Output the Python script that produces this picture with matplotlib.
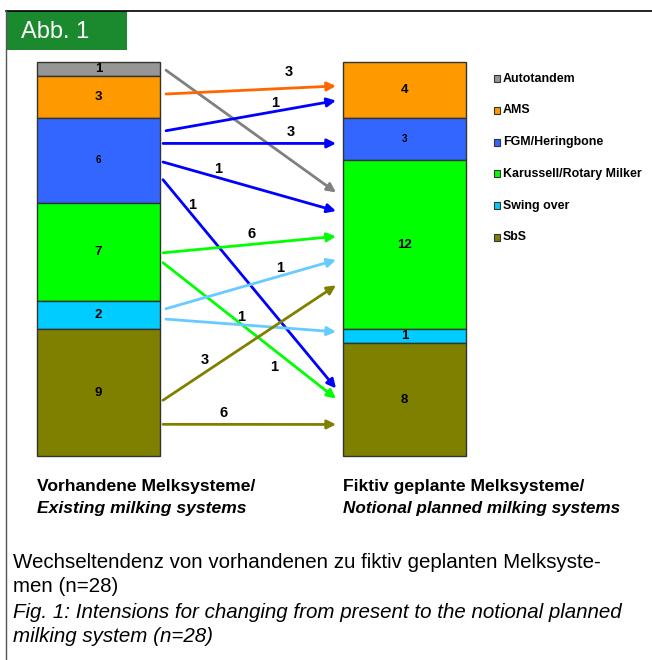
import numpy as np
import matplotlib
matplotlib.use("Agg")
import matplotlib.pyplot as plt
from matplotlib.patches import Rectangle
from matplotlib.lines import Line2D

# Melksysteme, Reihenfolge von oben nach unten im Stapel
systems = ['Autotandem', 'AMS', 'FGM/Heringbone', 'Karussell/Rotary Milker', 'Swing over', 'SbS']
sys_colors = ['#969696', '#FF9900', '#3366FF', '#00FF00', '#00CCFF', '#808000']
arrow_colors = ['#808080', '#FF6600', '#0000FF', '#00FF00', '#66CCFF', '#808000']

existing = [1, 3, 6, 7, 2, 9]   # vorhanden
planned = [0, 4, 3, 12, 1, 8]   # fiktiv geplant

# Wechsel: von -> nach, Anzahl Betriebe
flow_from = [0, 1, 2, 2, 2, 2, 3, 3, 4, 4, 5, 5]
flow_to = [3, 1, 1, 2, 3, 5, 3, 5, 3, 4, 3, 5]
flow_n = [1, 3, 1, 3, 1, 1, 6, 1, 1, 1, 3, 6]
flow_labelled = [False] + [True] * 11

# Lage der Pfeile innerhalb der Segmente (Anteil von oben)
start_frac = [0.60, 0.43, 0.15, 0.30, 0.52, 0.73, 0.51, 0.61, 0.27, 0.64, 0.56, 0.75]
end_frac = [0.19, 0.43, 0.69, 0.60, 0.30, 0.40, 0.45, 0.49, 0.59, 0.18, 0.74, 0.72]
start_pad = [6, 6, 6, 3, 3, 3, 3, 3, 6, 6, 3, 3]
# Beschriftung: Position entlang des Pfeils und Abstand darueber (px)
label_t = [0, 0.72, 0.64, 0.74, 0.32, 0.17, 0.51, 0.64, 0.67, 0.44, 0.24, 0.35]
label_dy = [0, 16, 8, 11, 9, 10, 10, -17, 8, 8, 13, 11]

W, H = 652, 660
fig = plt.figure(figsize=(W / 100, H / 100), dpi=100)


def fx(x):
    return x / W


def fy(y):
    return 1 - y / H


# Achse ueber die ganze Flaeche, Skala so gelegt, dass die Saeulen passen
ax = fig.add_axes([0, 0, 1, 1])
x_left, x_right = 98.5, 404.5
px_per_x = x_right - x_left
y_base, px_per_unit = 456.0, 14.08
ax.set_xlim((0 - x_left) / px_per_x, (W - x_left) / px_per_x)
ax.set_ylim((y_base - H) / px_per_unit, y_base / px_per_unit)
ax.axis('off')

total = sum(existing)
bar_w = 123 / px_per_x


def stack(vals):
    tops = total - np.concatenate([[0], np.cumsum(vals)[:-1]])
    return tops - np.array(vals), tops


ex_bot, ex_top = stack(existing)
pl_bot, pl_top = stack(planned)

for i in range(len(systems)):
    for xpos, vals, bots in ((0, existing, ex_bot), (1, planned, pl_bot)):
        if vals[i] == 0:
            continue
        ax.bar(xpos, vals[i], bottom=bots[i], width=bar_w, color=sys_colors[i],
               edgecolor='#333333', linewidth=1.0, zorder=2)
        fs = 7 if i == 2 else 9.5
        ax.text(xpos, bots[i] + vals[i] / 2, str(vals[i]), ha='center', va='center',
                fontsize=fs, fontweight='bold', family='Liberation Sans', zorder=3)

# Pfeile
for k in range(len(flow_n)):
    s, d = flow_from[k], flow_to[k]
    y0 = ex_top[s] - start_frac[k] * existing[s]
    y1 = pl_top[d] - end_frac[k] * planned[d]
    x0 = bar_w / 2 + start_pad[k] / px_per_x
    x1 = 1 - bar_w / 2 - 7 / px_per_x
    ax.annotate('', xy=(x1, y1), xytext=(x0, y0),
                arrowprops=dict(arrowstyle='-|>', color=arrow_colors[s], lw=2.0,
                                mutation_scale=13, shrinkA=0, shrinkB=0), zorder=4)
    if flow_labelled[k]:
        t = label_t[k]
        lx = x0 + t * (x1 - x0)
        ly = y0 + t * (y1 - y0) + label_dy[k] / px_per_unit
        ax.text(lx, ly, str(flow_n[k]), ha='center', va='center', fontsize=10.5,
                fontweight='bold', family='Liberation Sans', zorder=5)

# Legende
leg_y = [78.5, 110.3, 142.1, 173.9, 205.7, 237.5]
for i, name in enumerate(systems):
    fig.patches.append(Rectangle((fx(493.5), fy(leg_y[i] + 3.5)), 6.5 / W, 7 / H,
                                 transform=fig.transFigure, facecolor=sys_colors[i],
                                 edgecolor='#333333', linewidth=0.8))
    fig.text(fx(503), fy(leg_y[i]), name, ha='left', va='center', fontsize=8.9,
             fontweight='bold', family='Liberation Sans')

# Rahmen und Kopf
fig.add_artist(Line2D([fx(6), fx(652)], [fy(11), fy(11)], color='black', lw=1.2,
                      transform=fig.transFigure))
fig.add_artist(Line2D([fx(6), fx(6)], [fy(11), fy(660)], color='#555555', lw=1.0,
                      transform=fig.transFigure))
fig.patches.append(Rectangle((fx(6), fy(50)), 121 / W, 39 / H, transform=fig.transFigure,
                             facecolor='#1B8A2F', edgecolor='none'))
cond = ['Liberation Sans Narrow', 'Liberation Sans']
fig.text(fx(21), fy(32), 'Abb. 1', color='white', fontsize=17, va='center', ha='left',
         family=cond)

fig.text(fx(37), fy(486), 'Vorhandene Melksysteme/', fontsize=12.6, fontweight='bold',
         va='center', family=cond)
fig.text(fx(37), fy(509), 'Existing milking systems', fontsize=12.6, fontweight='bold',
         style='italic', va='center', family=cond)
fig.text(fx(343), fy(486), 'Fiktiv geplante Melksysteme/', fontsize=12.6, fontweight='bold',
         va='center', family=cond)
fig.text(fx(343), fy(509), 'Notional planned milking systems', fontsize=12.3,
         fontweight='bold', style='italic', va='center', family=cond)

fig.text(fx(13), fy(563), 'Wechseltendenz von vorhandenen zu fiktiv geplanten Melksyste-',
         fontsize=14.8, va='center', family=cond)
fig.text(fx(13), fy(587), 'men (n=28)', fontsize=14.8, va='center', family=cond)
fig.text(fx(13), fy(612), 'Fig. 1: Intensions for changing from present to the notional planned',
         fontsize=14.8, style='italic', va='center', family=cond)
fig.text(fx(13), fy(636), 'milking system (n=28)', fontsize=14.8, style='italic',
         va='center', family=cond)

fig.savefig('out.png', dpi=100)
